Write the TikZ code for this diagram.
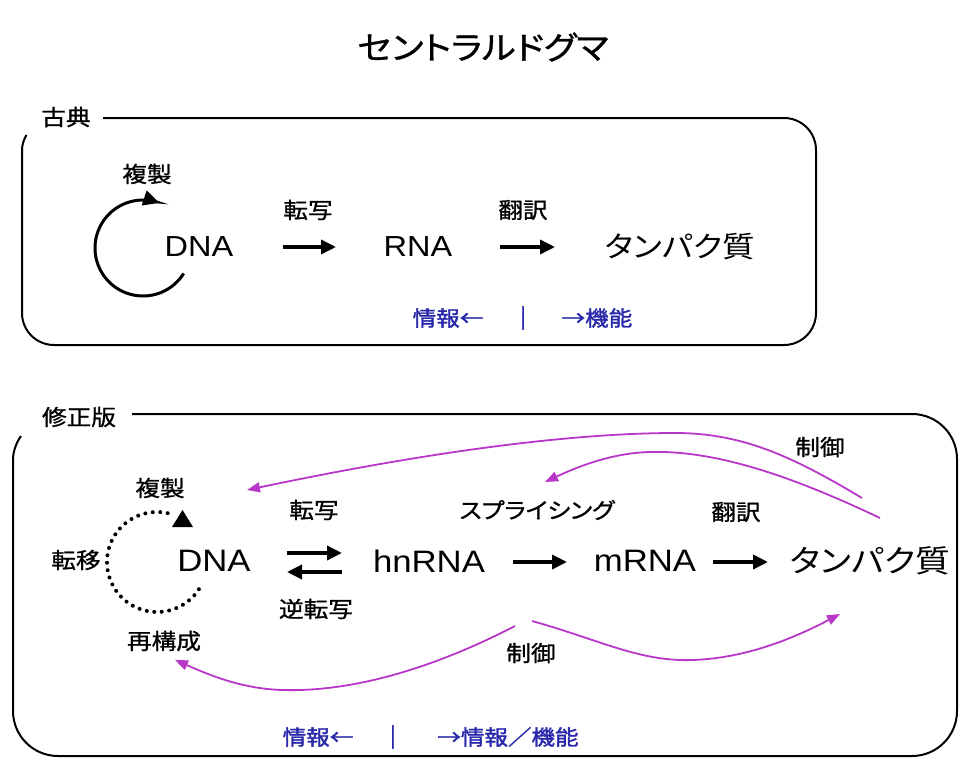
\documentclass[tikz,border=0pt]{standalone}
\usepackage{fontspec}
\setmainfont[FakeStretch=1.12]{Liberation Sans}
\newfontfamily\jp[FakeStretch=1.12,RawFeature=+palt]{Noto Sans CJK JP}
\newfontfamily\jpbold[FakeStretch=1.12,RawFeature=+palt,FakeBold=1.0]{Noto Sans CJK JP}
\newfontfamily\jpheavy[FakeStretch=1.12,RawFeature=+palt,FakeBold=1.6]{Noto Sans CJK JP}
\usetikzlibrary{arrows.meta}
\definecolor{mag}{RGB}{185,55,200}
\definecolor{infoblue}{RGB}{40,40,170}
\begin{document}
\begin{tikzpicture}[x=1pt,y=-1pt,
  lbl/.style={font=\jpbold\fontsize{22}{22}\selectfont, inner sep=0pt},
  ttl/.style={font=\jpbold\fontsize{32}{32}\selectfont, inner sep=0pt},
  jpa/.style={font=\jp\fontsize{29}{29}\selectfont, inner sep=0pt},
  lta/.style={font=\fontsize{29}{29}\selectfont, inner sep=0pt},
  jpb/.style={font=\jp\fontsize{31}{31}\selectfont, inner sep=0pt},
  ltb/.style={font=\fontsize{31}{31}\selectfont, inner sep=0pt},
  info/.style={font=\jpheavy\fontsize{21}{21}\selectfont, text=infoblue, inner sep=0pt},
  flow/.style={line width=3.5pt, -{Triangle[length=15pt,width=14pt]}},
  ctrl/.style={mag, line width=1.8pt, -{Triangle[length=13pt,width=10pt]}},
  frame/.style={line width=2pt},
  cyc/.style={line width=3pt}
]
\useasboundingbox[fill=white] (0,0) rectangle (962,760);

% title
\node[ttl] (title) at (483,47) {セントラルドグマ};

% ---------- classic ----------
\node[lbl] (koten) at (66,117) {古典};
\draw[frame, rounded corners=32pt] (103,118) -- (816,118) -- (816,345) -- (22,345) -- (22,150);
\draw[frame] (22,150.5) .. controls (22,145) and (23.5,140) .. (26.5,135);

\node[lbl] (fuku1) at (147,174) {複製};
\node[lta] (dna1) at (199,247) {DNA};
\node[lbl] (tensha1) at (308,210) {転写};
\node[lta] (rna1) at (418,247) {RNA};
\node[lbl] (honyaku1) at (523,210) {翻訳};
\node[jpa] (prot1) at (680,247) {タンパク質};

\draw[cyc, -{Triangle[length=16pt,width=15pt]}] plot[smooth, domain=32:290, samples=40] ({143+48*cos(\x)},{248+48*sin(\x)});

\coordinate (a1s) at (283,247); \coordinate (a1e) at (336,247);
\coordinate (a2s) at (500,247); \coordinate (a2e) at (555,247);
\draw[flow] (a1s) -- (a1e);
\draw[flow] (a2s) -- (a2e);

\node[info] (info1) at (448,318) {情報←};
\node[info] (bar1) at (523,318) {|};
\node[info] (func1) at (597,318) {→機能};

% ---------- revised ----------
\node[lbl] (shusei) at (79,417) {修正版};
\draw[frame, rounded corners=45pt] (132,414) -- (957,414) -- (957,756) -- (13,756) -- (13,459);
\draw[frame] (13,459.5) .. controls (13,452) and (16,443) .. (21,436);

\node[lbl] (fuku2) at (160,488) {複製};
\node[lbl] (teni) at (76,560) {転移};
\node[lbl] (saikou) at (164,641) {再構成};
\node[ltb] (dna2) at (214,561) {DNA};
\node[lbl] (tensha2) at (314,510) {転写};
\node[lbl] (gyaku) at (316,609) {逆転写};
\node[ltb] (hnrna) at (429,561) {hnRNA};
\node[lbl] (splice) at (537,510) {スプライシング};
\node[ltb] (mrna) at (645,561) {mRNA};
\node[lbl] (honyaku2) at (736,512) {翻訳};
\node[jpb] (prot2) at (870,561) {タンパク質};
\node[lbl] (seigyo1) at (820,447) {制御};
\node[lbl] (seigyo2) at (531,653) {制御};

\draw[line width=4pt, dash pattern=on 0pt off 7.5pt, line cap=round] plot[smooth, domain=33:288, samples=40] ({157+50*cos(\x)},{562+50*sin(\x)});
\fill (172,527) -- (193,527) -- (182.5,510) -- cycle;

\coordinate (e1s) at (287,553); \coordinate (e1e) at (342,553);
\coordinate (e2s) at (342,572); \coordinate (e2e) at (287,572);
\draw[flow] (e1s) -- (e1e);
\draw[flow] (e2s) -- (e2e);
\coordinate (a3s) at (513,562); \coordinate (a3e) at (567,562);
\coordinate (a4s) at (713,562); \coordinate (a4e) at (768,562);
\draw[flow] (a3s) -- (a3e);
\draw[flow] (a4s) -- (a4e);

% control arrows
\coordinate (cAs) at (862,498); \coordinate (cAe) at (247,490);
\coordinate (cBs) at (880,518); \coordinate (cBe) at (545,482);
\coordinate (cCs) at (515,626); \coordinate (cCe) at (175,660);
\coordinate (cDs) at (532,621); \coordinate (cDe) at (840,614);
\draw[ctrl] (cAs) .. controls (790,455) and (740,432) .. (670,433) .. controls (540,434) and (380,462) .. (cAe);
\draw[ctrl] (cBs) .. controls (800,480) and (720,450) .. (650,452) .. controls (610,453) and (575,468) .. (cBe);
\draw[ctrl] (cCs) .. controls (430,670) and (350,692) .. (283,690) .. controls (240,689) and (205,673) .. (cCe);
\draw[ctrl] (cDs) .. controls (600,640) and (640,662) .. (693,660) .. controls (750,658) and (800,635) .. (cDe);

\node[info] (info2) at (318,737) {情報←};
\node[info] (bar2) at (393,737) {|};
\node[info] (func2) at (508,737) {→情報／機能};
\end{tikzpicture}
\end{document}
